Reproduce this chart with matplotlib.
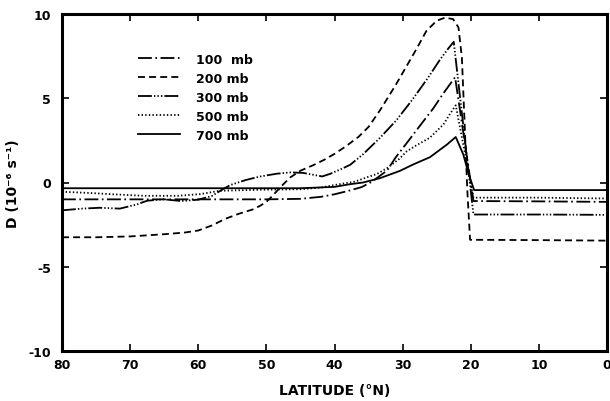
import matplotlib
matplotlib.use("Agg")
import matplotlib.pyplot as plt

plt.rcParams['font.family'] = ['DejaVu Sans']
plt.rcParams['lines.scale_dashes'] = False

# ---- data ----
lat_100 = [80, 70, 60, 50, 45, 42, 40, 38, 36, 34.5, 33.5, 32.3, 31, 29, 27.4, 25.5, 24, 22.3, 19.6, 10, 0]
d_100 = [-1.0, -1.0, -1.0, -1.0, -0.97, -0.85, -0.7, -0.5, -0.27, 0.05, 0.35, 0.7, 1.5, 2.55, 3.4, 4.4, 5.3, 6.25, -1.1, -1.12, -1.15]

lat_200 = [80, 75, 70, 65, 62, 60, 58, 56, 54, 52, 51, 50, 49, 48, 46.5, 45, 43, 41.5, 40, 38.5, 36.5,
           35, 33.3, 31, 29, 28, 26.5, 25, 23.8, 22.6, 21.8, 21.3, 20.8, 20.5, 20.1, 10, 0]
d_200 = [-3.25, -3.25, -3.2, -3.07, -2.97, -2.85, -2.55, -2.15, -1.85, -1.6, -1.4, -1.15, -0.75, -0.3, 0.3, 0.7,
         1.05, 1.35, 1.7, 2.1, 2.7, 3.3, 4.3, 5.8, 7.2, 7.9, 9.0, 9.6, 9.78, 9.7, 9.2, 7.4, 2.5, -0.5, -3.4, -3.42, -3.45]

lat_300 = [80, 77, 74.5, 71.5, 69, 67.5, 65, 62.5, 60, 58, 56.8, 55.3, 53, 51, 48.5, 46.5, 44.6, 43, 41.8,
           40.6, 39, 37.7, 35.8, 33.3, 30.9, 28.6, 26.3, 24.5, 23.3, 22.5, 19.6, 10, 0]
d_300 = [-1.65, -1.55, -1.5, -1.55, -1.3, -1.08, -1.0, -1.1, -1.02, -0.8, -0.5, -0.15, 0.15, 0.35, 0.52, 0.6,
         0.57, 0.45, 0.36, 0.52, 0.8, 1.05, 1.68, 2.66, 3.7, 4.9, 6.2, 7.3, 7.95, 8.35, -1.9, -1.9, -1.92]

lat_500 = [80, 76, 73, 68, 63, 59.7, 56.8, 51, 45, 42, 40, 37, 35.3, 33.8, 32.3, 30.5, 29.4, 28, 26, 24, 23,
           22.2, 19.6, 10, 0]
d_500 = [-0.55, -0.62, -0.69, -0.79, -0.79, -0.69, -0.49, -0.43, -0.4, -0.3, -0.15, 0.05, 0.3, 0.5, 0.85,
         1.4, 1.85, 2.2, 2.66, 3.45, 4.1, 4.58, -0.9, -0.9, -0.95]

lat_700 = [80, 60, 45, 40, 37.7, 35.8, 33.3, 30.4, 28.4, 26, 25, 23.5, 22.2, 21.1, 20.3, 19.5, 10, 0]
d_700 = [-0.34, -0.34, -0.34, -0.26, -0.1, 0.0, 0.26, 0.69, 1.08, 1.5, 1.8, 2.25, 2.7, 1.67, 0.49, -0.45, -0.45, -0.45]

labels = ['100  mb', '200 mb', '300 mb', '500 mb', '700 mb']
x_ticks = [80, 70, 60, 50, 40, 30, 20, 10, 0]
y_ticks = [-10, -5, 0, 5, 10]

# ---- figure ----
fig = plt.figure(figsize=(6.10, 4.02), dpi=100)
ax = fig.add_axes([62/610, 1-352/402, 545/610, 337/402])

lw = 1.3
styles = [
    dict(dashes=(10, 2.5, 1.2, 2.5)),
    dict(dashes=(5, 3)),
    dict(dashes=(10, 1.5, 1, 1.5, 1, 1.5, 1, 1.5)),
    dict(dashes=(1, 1.6)),
    dict(linestyle='-'),
]
series = [(lat_100, d_100), (lat_200, d_200), (lat_300, d_300), (lat_500, d_500), (lat_700, d_700)]
for (xs, ys), st, lab in zip(series, styles, labels):
    ax.plot(xs, ys, color='black', lw=lw, label=lab, **st)

ax.set_xlim(80, 0)
ax.set_ylim(-10, 10)
ax.set_xticks(x_ticks)
ax.set_xticklabels([str(v) for v in x_ticks], fontweight='bold')
ax.set_yticks(y_ticks)
ax.set_yticklabels([str(v) for v in y_ticks], fontweight='bold')

for s in ax.spines.values():
    s.set_linewidth(2.2)

ax.tick_params(direction='in', length=5, width=1.2, top=True, right=True,
               labelsize=9, pad=5)
ax.tick_params(axis='y', pad=8)

ax.set_xlabel('LATITUDE (°N)', fontsize=10, fontweight='bold', labelpad=9)
ax.set_ylabel('D (10\u207b\u2076 s\u207b\u00b9)', fontsize=10, fontweight='bold', labelpad=6)

leg = ax.legend(loc='upper left', bbox_to_anchor=(0.14, 0.885), frameon=False,
                prop=dict(size=9, weight='bold'), handlelength=3.3, handletextpad=1.3,
                labelspacing=0.48, borderaxespad=0, borderpad=0)

fig.savefig('out.png', dpi=100)
